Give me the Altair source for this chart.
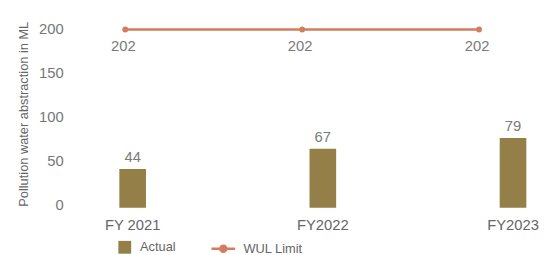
import altair as alt
import pandas as pd

years = ["FY 2021", "FY2022", "FY2023"]
actual = [44, 67, 79]
wul_limit = [202, 202, 202]

BAR_COLOR = "#957F49"
LINE_COLOR = "#D27E5E"
TEXT_GRAY = "#7a7a7a"
FONT = "Liberation Sans"

bar_df = pd.DataFrame({"year": years, "value": actual, "series": ["Actual"] * 3})
line_df = pd.DataFrame({"year": years, "value": wul_limit, "series": ["WUL Limit"] * 3})

y_enc = alt.Y(
    "value:Q",
    scale=alt.Scale(domain=[0, 202], nice=False),
    axis=alt.Axis(
        values=[0, 50, 100, 150, 200],
        title="Pollution water abstraction in ML",
        titleFontSize=13,
        titleFontWeight="normal",
        titleColor="#666666",
        titleX=-97,
        titleY=85.5,
        titleBaseline="middle",
        labelFontSize=15,
        labelColor="#777777",
        labelPadding=57,
        labelOffset=-3,
    ),
)

bar_x = alt.X(
    "year:N",
    sort=years,
    scale=alt.Scale(paddingInner=0.86, paddingOuter=0),
    axis=alt.Axis(
        title=None,
        labelAngle=0,
        labelFontSize=15,
        labelColor="#666666",
        labelPadding=10,
    ),
)

bars = alt.Chart(bar_df).mark_bar().encode(
    x=bar_x,
    y=y_enc,
    color=alt.Color(
        "series:N",
        scale=alt.Scale(domain=["Actual"], range=[BAR_COLOR]),
        legend=alt.Legend(
            title=None,
            orient="none",
            legendX=-1,
            legendY=214.5,
            symbolType="square",
            symbolSize=169,
            symbolStrokeWidth=0,
            labelFontSize=13,
            labelColor="#666666",
            labelOffset=9,
            padding=0,
        ),
    ),
)

bar_text = alt.Chart(bar_df).mark_text(
    baseline="alphabetic", dy=-7, fontSize=15, color=TEXT_GRAY, font=FONT
).encode(x=alt.X("year:N", sort=years), y="value:Q", text="value:Q")

bar_layer = alt.layer(bars, bar_text)

line_x = alt.X(
    "year:N",
    sort=years,
    scale=alt.Scale(type="point", range=[6, 365], padding=0),
    axis=None,
)

legend_path = "M-1,0H1M0.25,0A0.25,0.25,0,1,1,-0.25,0A0.25,0.25,0,1,1,0.25,0Z"

line = alt.Chart(line_df).mark_line(strokeWidth=2.5).encode(
    x=line_x,
    y="value:Q",
    stroke=alt.Stroke(
        "series:N",
        scale=alt.Scale(domain=["WUL Limit"], range=[LINE_COLOR]),
        legend=alt.Legend(
            title=None,
            orient="none",
            legendX=92,
            legendY=209,
            symbolType=legend_path,
            symbolSize=576,
            symbolStrokeWidth=2.5,
            symbolFillColor=LINE_COLOR,
            labelFontSize=13,
            labelColor="#666666",
            labelOffset=7,
            padding=0,
        ),
    ),
)

points = alt.Chart(line_df).mark_point(filled=True, size=36, opacity=1, color=LINE_COLOR).encode(
    x=line_x, y="value:Q"
)

line_text = alt.Chart(line_df).mark_text(
    baseline="alphabetic", dy=21.5, dx=-2, fontSize=15, color=TEXT_GRAY, font=FONT
).encode(x=line_x, y="value:Q", text="value:Q")

line_layer = alt.layer(line, points, line_text)

chart = (
    alt.layer(bar_layer, line_layer)
    .resolve_scale(x="independent")
    .properties(
        width=413,
        height=181,
        autosize=alt.AutoSizeParams(type="none"),
        padding={"left": 113, "top": 20, "right": 22, "bottom": 46},
    )
    .configure_view(stroke=None)
    .configure_axis(grid=False, domain=False, ticks=False, labelFont=FONT, titleFont=FONT)
    .configure_legend(labelFont=FONT)
    .configure_text(font=FONT)
)

chart.save("out.html", embed_options={"renderer": "svg", "actions": False})
